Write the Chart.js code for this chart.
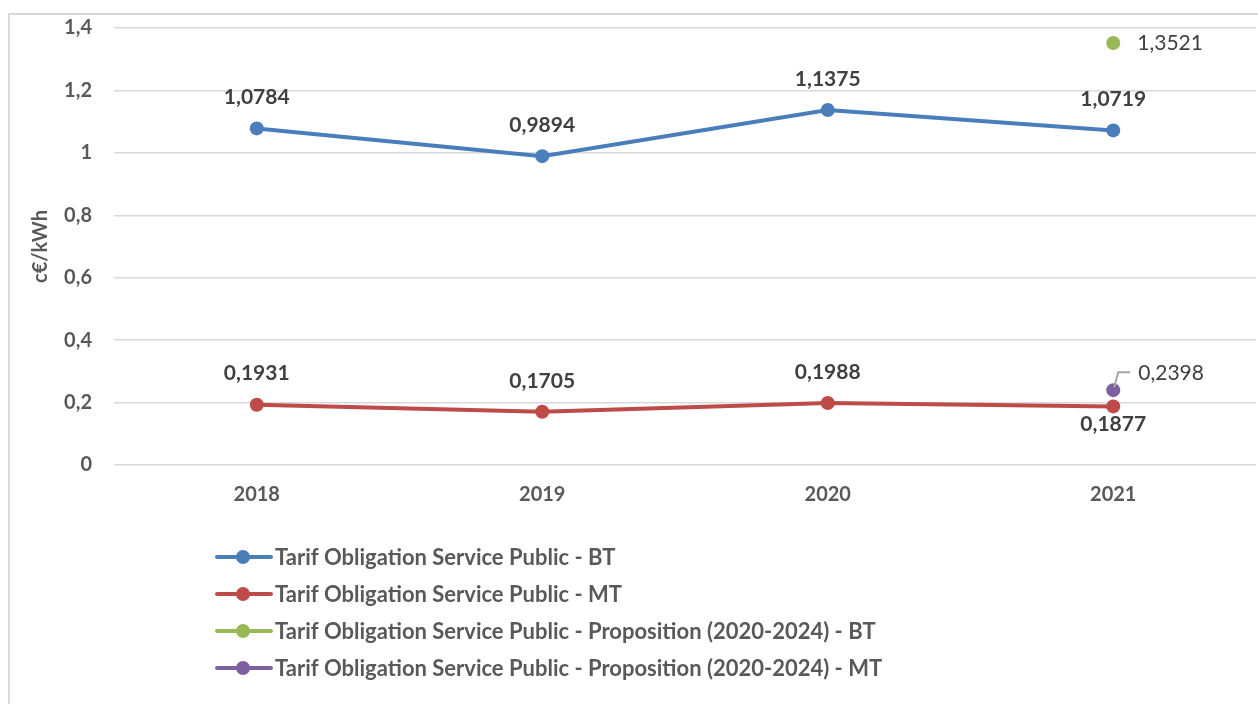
<!DOCTYPE html>
<html>
<head>
<meta charset="utf-8">
<script src="https://cdn.jsdelivr.net/npm/chart.js@4.4.1/dist/chart.umd.min.js"></script>
<style>
html, body { margin: 0; padding: 0; background: #fff; }
#wrap { position: relative; width: 1258px; height: 704px; }
</style>
</head>
<body>
<div id="wrap"><canvas id="chart" width="1258" height="704"></canvas></div>
<script>
// data
const years = ['2018', '2019', '2020', '2021'];
const tospBT = [1.0784, 0.9894, 1.1375, 1.0719];
const tospMT = [0.1931, 0.1705, 0.1988, 0.1877];
const propBT = [null, null, null, 1.3521];
const propMT = [null, null, null, 0.2398];
const seriesNames = [
    'Tarif Obligation Service Public - BT',
    'Tarif Obligation Service Public - MT',
    'Tarif Obligation Service Public - Proposition (2020-2024) - BT',
    'Tarif Obligation Service Public - Proposition (2020-2024) - MT'
];
const yTicks = { min: 0, max: 1.4, step: 0.2 };

const COLORS = ['#4a7ebb', '#be4b48', '#98b954', '#7d60a0'];
const FONT = 'Lato, "Open Sans", sans-serif';

// label placement per dataset / point
const labelStyle = [
    { bold: true, pos: ['above', 'above', 'above', 'above'] },
    { bold: true, pos: ['above', 'above', 'above', 'below'] },
    { bold: false, pos: [null, null, null, 'right'] },
    { bold: false, pos: [null, null, null, 'callout'] }
];

const fmt = (v) => v.toFixed(4).replace('.', ',');

const frame = {
    id: 'frame',
    beforeDraw(chart) {
        const ctx = chart.ctx;
        ctx.save();
        ctx.fillStyle = '#fff';
        ctx.fillRect(0, 0, chart.width, chart.height);
        ctx.strokeStyle = '#d9d9d9';
        ctx.lineWidth = 2;
        ctx.strokeRect(9, 14, 1400, 900);
        ctx.restore();
    }
};

const pointLabels = {
    id: 'pointLabels',
    afterDatasetsDraw(chart) {
        const ctx = chart.ctx;
        ctx.save();
        chart.data.datasets.forEach((ds, i) => {
            const meta = chart.getDatasetMeta(i);
            const st = labelStyle[i];
            meta.data.forEach((pt, j) => {
                const v = ds.data[j];
                if (v === null || !st.pos[j]) return;
                ctx.font = (st.bold ? 'bold ' : '') + '21px ' + FONT;
                ctx.fillStyle = '#404040';
                ctx.textBaseline = 'middle';
                const p = st.pos[j];
                if (p === 'above') {
                    ctx.textAlign = 'center';
                    ctx.fillText(fmt(v), pt.x, pt.y - 31);
                } else if (p === 'below') {
                    ctx.textAlign = 'center';
                    ctx.fillText(fmt(v), pt.x, pt.y + 18);
                } else if (p === 'right') {
                    ctx.textAlign = 'left';
                    ctx.fillText(fmt(v), pt.x + 24, pt.y);
                } else if (p === 'callout') {
                    ctx.strokeStyle = '#a6a6a6';
                    ctx.lineWidth = 2;
                    ctx.beginPath();
                    ctx.moveTo(pt.x + 1, pt.y - 3);
                    ctx.lineTo(pt.x + 5, pt.y - 18);
                    ctx.lineTo(pt.x + 17, pt.y - 18);
                    ctx.stroke();
                    ctx.textAlign = 'left';
                    ctx.fillText(fmt(v), pt.x + 25, pt.y - 17);
                }
            });
        });
        ctx.restore();
    }
};

const sideLegend = {
    id: 'sideLegend',
    afterDraw(chart) {
        const ctx = chart.ctx;
        ctx.save();
        chart.data.datasets.forEach((ds, i) => {
            const y = 557 + i * 37;
            ctx.strokeStyle = ds.borderColor;
            ctx.lineWidth = 4;
            ctx.lineCap = 'round';
            ctx.beginPath();
            ctx.moveTo(217, y);
            ctx.lineTo(271, y);
            ctx.stroke();
            ctx.fillStyle = ds.borderColor;
            ctx.beginPath();
            ctx.arc(243, y, 7, 0, Math.PI * 2);
            ctx.fill();
            ctx.font = 'bold 22px ' + FONT;
            ctx.fillStyle = '#595959';
            ctx.textAlign = 'left';
            ctx.textBaseline = 'middle';
            ctx.fillText(ds.label, 275, y + 1);
        });
        ctx.restore();
    }
};

const series = [tospBT, tospMT, propBT, propMT];

const chart = new Chart(document.getElementById('chart').getContext('2d'), {
    type: 'line',
    data: {
        labels: years,
        datasets: series.map((d, i) => ({
            label: seriesNames[i],
            data: d,
            borderColor: COLORS[i],
            backgroundColor: COLORS[i],
            borderWidth: 4,
            pointRadius: 7,
            pointHoverRadius: 7,
            pointBorderWidth: 0,
            tension: 0,
            spanGaps: false
        }))
    },
    options: {
        responsive: false,
        animation: false,
        devicePixelRatio: 1,
        layout: { autoPadding: false, padding: { left: 0, top: 28, right: 2, bottom: 0 } },
        plugins: {
            legend: { display: false },
            tooltip: { enabled: false }
        },
        scales: {
            x: {
                offset: true,
                grid: { display: false, drawTicks: false },
                border: { display: false },
                ticks: {
                    padding: 18,
                    color: '#595959',
                    font: { family: FONT, size: 20, weight: 'bold' }
                },
                afterFit: (s) => {
                    s.height = 239;
                    s.paddingLeft = 0;
                    s.paddingRight = 0;
                }
            },
            y: {
                min: yTicks.min,
                max: yTicks.max,
                grid: { color: '#d9d9d9', lineWidth: 1.5, drawTicks: false },
                border: { display: false },
                ticks: {
                    stepSize: yTicks.step,
                    padding: 22,
                    color: '#595959',
                    font: { family: FONT, size: 20, weight: 'bold' },
                    callback: (v) => String(Number(v.toFixed(1))).replace('.', ',')
                },
                title: {
                    display: true,
                    text: 'c€/kWh',
                    color: '#595959',
                    font: { family: FONT, size: 20, weight: 'bold' },
                    padding: { top: 29, bottom: 0 }
                },
                afterFit: (s) => {
                    s.width = 114;
                    s.paddingTop = 0;
                    s.paddingBottom = 0;
                }
            }
        }
    },
    plugins: [frame, pointLabels, sideLegend]
});
</script>
</body>
</html>
